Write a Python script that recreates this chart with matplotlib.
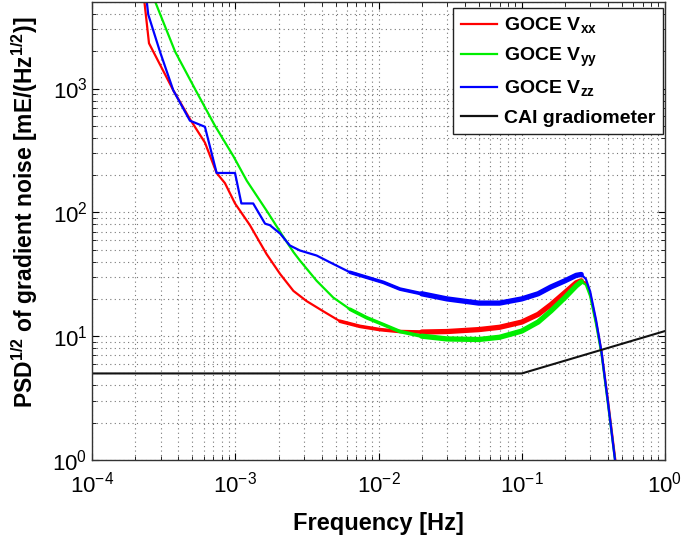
import numpy as np
import matplotlib
matplotlib.use("Agg")
import matplotlib.pyplot as plt

plt.rcParams["font.family"] = ["Liberation Sans", "DejaVu Sans"]
plt.rcParams["mathtext.fontset"] = "custom"
plt.rcParams["mathtext.rm"] = "Liberation Sans"
plt.rcParams["mathtext.bf"] = "Liberation Sans:bold"

# Vxx
f_xx = [2.31e-4, 2.49e-4, 3.68e-4, 4.81e-4, 6.12e-4, 7.39e-4, 8.45e-4, 9.93e-4, 1.26e-3,
        1.65e-3, 2.05e-3, 2.54e-3, 3.14e-3, 4.10e-3, 5.37e-3, 7.40e-3, 0.0102, 0.0141,
        0.02, 0.03, 0.05, 0.07, 0.1, 0.13, 0.16, 0.2, 0.24, 0.26, 0.28, 0.30, 0.33,
        0.36, 0.40, 0.45, 0.5]
v_xx = [5080, 2320, 967, 567, 366, 208, 172, 118, 79,
        46, 31.8, 23.2, 19.2, 15.9, 13.2, 12.0, 11.3, 10.9,
        10.8, 10.9, 11.3, 11.8, 13.0, 15.0, 18.0, 22.5, 27.0, 28.0, 27.0, 22.0, 13.0,
        7.5, 3.0, 1.0, 0.4]

# Vyy
f_yy = [2.74e-4, 3.79e-4, 5.36e-4, 7.19e-4, 9.66e-4, 1.20e-3, 1.70e-3, 2.16e-3, 2.54e-3,
        2.82e-3, 3.69e-3, 4.82e-3, 6.31e-3, 8.24e-3, 0.0108, 0.0141,
        0.02, 0.03, 0.05, 0.07, 0.1, 0.13, 0.16, 0.2, 0.24, 0.26, 0.28, 0.30, 0.33,
        0.36, 0.40, 0.45, 0.5]
v_yy = [5080, 1986, 936, 501, 285, 180, 98, 63.4, 47.8,
        40.8, 28.0, 20.5, 16.5, 14.1, 12.4, 10.9,
        10.0, 9.5, 9.4, 9.8, 11.0, 13.0, 16.0, 20.5, 25.5, 27.5, 26.0, 21.0, 12.5,
        7.2, 2.8, 0.95, 0.4]

# Vzz
f_zz = [2.40e-4, 2.46e-4, 2.97e-4, 3.68e-4, 4.81e-4, 6.12e-4, 7.39e-4, 9.93e-4, 1.10e-3,
        1.33e-3, 1.61e-3, 1.74e-3, 2.05e-3, 2.40e-3, 2.82e-3, 3.69e-3, 4.82e-3, 6.31e-3,
        8.24e-3, 0.0108, 0.0141, 0.02, 0.03, 0.05, 0.07, 0.1, 0.13, 0.16, 0.2, 0.24,
        0.26, 0.28, 0.30, 0.33, 0.36, 0.40, 0.45, 0.5]
v_zz = [5080, 3960, 1986, 967, 550, 491, 208, 208, 118,
        118, 81, 78.8, 67.4, 54, 49.2, 44.8, 38.3, 32.8,
        29.9, 27.2, 24.0, 22.0, 20.0, 18.5, 18.5, 20.0, 22.0, 25.0, 28.0, 31.0,
        31.5, 29.0, 23.0, 13.5, 7.5, 2.9, 0.95, 0.4]

# CAI gradiometer
f_cai = [1e-4, 0.1, 1.0]
v_cai = [5.0, 5.0, 11.0]

fig = plt.figure(figsize=(6.85, 5.38), dpi=100)
ax = fig.add_axes([0.1347, 0.145, 0.8361, 0.8513])

series = [
    (f_xx, v_xx, "#ff0000", r"GOCE V$_{\mathbf{xx}}$"),
    (f_yy, v_yy, "#00ee00", r"GOCE V$_{\mathbf{yy}}$"),
    (f_zz, v_zz, "#0000ff", r"GOCE V$_{\mathbf{zz}}$"),
]
for f, v, c, lab in series:
    f = np.array(f)
    v = np.array(v)
    ax.loglog(f, v, color=c, lw=1.6, label=lab)
    # the measured spectra look fuzzy at higher frequencies, thicken that part
    m = (f >= 0.005) & (f <= 0.27)
    ax.loglog(f[m], v[m], color=c, lw=2.6, solid_capstyle="round")
    m = (f >= 0.02) & (f <= 0.26)
    ax.loglog(f[m], v[m], color=c, lw=3.8, solid_capstyle="round")

ax.loglog(f_cai, v_cai, color="#111111", lw=1.5, label="CAI gradiometer")

ax.set_xlim(1e-4, 1)
ax.set_ylim(1, 5000)

ax.grid(True, which="both", linestyle=(0, (1, 3)), color="#777777", linewidth=0.8)
ax.tick_params(which="both", direction="in", top=True, right=True, labelsize=16)
ax.tick_params(axis="x", which="major", pad=8)
ax.tick_params(which="major", length=5)
ax.tick_params(which="minor", length=3)
for s in ax.spines.values():
    s.set_color("#333333")
    s.set_linewidth(1.0)

ax.set_xlabel("Frequency [Hz]", fontsize=17, fontweight="bold", labelpad=11)
ax.set_ylabel(r"PSD$^{\mathbf{1/2}}$ of gradient noise [mE/(Hz$^{\mathbf{1/2}}$)]",
              fontsize=16.5, fontweight="bold")
ax.yaxis.set_label_coords(-0.092, 0.54)

leg = ax.legend(loc="upper right", bbox_to_anchor=(0.996, 0.987),
                prop={"weight": "bold", "size": 14},
                frameon=True, fancybox=False, framealpha=1, edgecolor="#222222",
                handlelength=1.85, borderaxespad=0.0, labelspacing=0.5,
                borderpad=0.4, handletextpad=0.35)
leg.get_frame().set_linewidth(1.0)
for ln in leg.get_lines():
    ln.set_linewidth(1.6)

fig.savefig("out.png", dpi=100)
